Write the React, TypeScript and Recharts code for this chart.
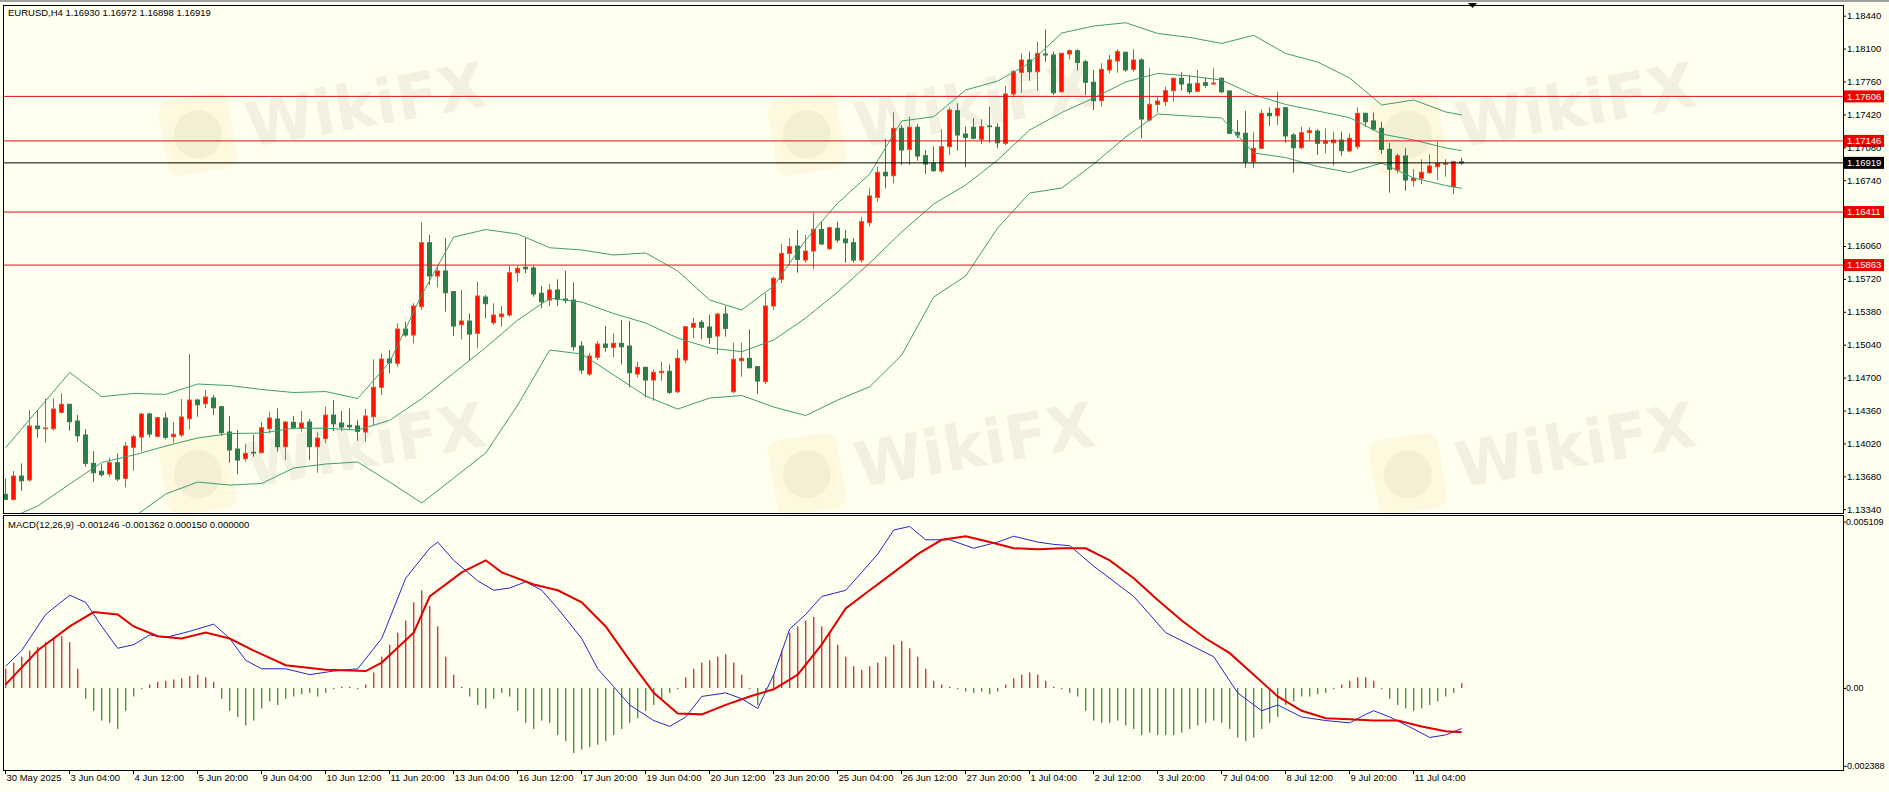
import React from 'react';
import { ComposedChart, Bar, Line, XAxis, YAxis, ReferenceLine } from 'recharts';

// [open, high, low, close] for each H4 bar
const candles: number[][] = [
  [1.13494,1.13659,1.13435,1.13442],[1.13442,1.13735,1.13428,1.13683],[1.13683,1.13814,1.13531,1.13634],[1.13642,1.14365,1.13624,1.14200],
  [1.14200,1.14365,1.14079,1.14172],[1.14172,1.14486,1.14027,1.14179],[1.14172,1.14486,1.14151,1.14375],[1.14341,1.14538,1.14331,1.14424],
  [1.14424,1.14430,1.14151,1.14244],[1.14251,1.14313,1.14037,1.14099],[1.14107,1.14169,1.13779,1.13814],[1.13814,1.13941,1.13624,1.13717],
  [1.13732,1.13804,1.13676,1.13697],[1.13704,1.13876,1.13676,1.13821],[1.13821,1.13918,1.13631,1.13652],[1.13659,1.14031,1.13566,1.13993],
  [1.13980,1.14107,1.13738,1.14089],[1.14086,1.14337,1.13934,1.14324],[1.14324,1.14337,1.14083,1.14117],[1.14093,1.14296,1.14083,1.14286],
  [1.14282,1.14341,1.14062,1.14083],[1.14089,1.14241,1.14027,1.14114],[1.14107,1.14479,1.14089,1.14293],[1.14275,1.14944,1.14166,1.14468],
  [1.14468,1.14482,1.14296,1.14420],[1.14430,1.14572,1.14383,1.14499],[1.14489,1.14520,1.14313,1.14389],[1.14399,1.14405,1.14099,1.14131],
  [1.14138,1.14303,1.13821,1.13952],[1.13962,1.14158,1.13701,1.13848],[1.13862,1.14011,1.13831,1.13918],[1.13928,1.14107,1.13883,1.13921],
  [1.13924,1.14241,1.13918,1.14182],[1.14172,1.14348,1.14124,1.14282],[1.14272,1.14383,1.13934,1.13986],[1.13986,1.14251,1.13848,1.14241],
  [1.14238,1.14303,1.14166,1.14182],[1.14176,1.14355,1.14141,1.14231],[1.14241,1.14272,1.13848,1.13986],[1.13986,1.14135,1.13717,1.14076],
  [1.14069,1.14399,1.14021,1.14313],[1.14313,1.14468,1.14148,1.14223],[1.14231,1.14355,1.14148,1.14189],[1.14207,1.14383,1.14166,1.14192],
  [1.14200,1.14262,1.14048,1.14145],[1.14138,1.14375,1.14037,1.14303],[1.14296,1.14889,1.14210,1.14600],[1.14600,1.14951,1.14520,1.14892],
  [1.14892,1.14985,1.14744,1.14854],[1.14848,1.15261,1.14813,1.15202],[1.15202,1.15278,1.15123,1.15140],[1.15140,1.15468,1.15054,1.15440],
  [1.15433,1.16305,1.15399,1.16094],[1.16094,1.16174,1.15657,1.15750],[1.15750,1.15864,1.15633,1.15802],[1.15802,1.16139,1.15381,1.15577],
  [1.15588,1.15595,1.15130,1.15233],[1.15247,1.15605,1.15096,1.15285],[1.15285,1.15364,1.14875,1.15150],[1.15158,1.15691,1.15003,1.15543],
  [1.15533,1.15553,1.15313,1.15464],[1.15267,1.15468,1.15243,1.15347],[1.15329,1.15440,1.15226,1.15357],[1.15347,1.15856,1.15329,1.15784],
  [1.15784,1.15856,1.15691,1.15829],[1.15840,1.16146,1.15778,1.15825],[1.15833,1.15856,1.15536,1.15564],[1.15571,1.15647,1.15416,1.15484],
  [1.15502,1.15667,1.15440,1.15605],[1.15605,1.15716,1.15440,1.15509],[1.15512,1.15802,1.15468,1.15499],[1.15502,1.15681,1.14978,1.15019],
  [1.15026,1.15078,1.14737,1.14778],[1.14737,1.14957,1.14716,1.14923],[1.14910,1.15078,1.14882,1.15047],[1.15047,1.15233,1.14968,1.15013],
  [1.15013,1.15158,1.14910,1.15054],[1.15054,1.15295,1.14837,1.15019],[1.15026,1.15285,1.14600,1.14751],[1.14737,1.14864,1.14703,1.14806],
  [1.14806,1.14812,1.14496,1.14675],[1.14675,1.14786,1.14461,1.14755],[1.14751,1.14864,1.14668,1.14765],[1.14765,1.14837,1.14530,1.14548],
  [1.14554,1.14992,1.14538,1.14899],[1.14882,1.15233,1.14848,1.15226],[1.15220,1.15319,1.15106,1.15261],[1.15271,1.15295,1.15096,1.15220],
  [1.15223,1.15347,1.15047,1.15116],[1.15130,1.15371,1.14944,1.15357],[1.15357,1.15440,1.15123,1.15209],[1.14554,1.15061,1.14538,1.14889],
  [1.14875,1.15061,1.14709,1.14899],[1.14899,1.15199,1.14796,1.14802],[1.14813,1.14820,1.14530,1.14665],[1.14658,1.15571,1.14634,1.15440],
  [1.15440,1.15743,1.15399,1.15726],[1.15716,1.16081,1.15674,1.15984],[1.15984,1.16139,1.15864,1.16053],[1.16060,1.16225,1.15784,1.15922],
  [1.15915,1.16174,1.15887,1.16008],[1.16008,1.16404,1.15819,1.16232],[1.16232,1.16311,1.16070,1.16081],[1.16032,1.16259,1.16019,1.16249],
  [1.16243,1.16311,1.16094,1.16122],[1.16132,1.16225,1.15887,1.16094],[1.16094,1.16139,1.15887,1.15915],[1.15915,1.16363,1.15887,1.16311],
  [1.16301,1.16656,1.16259,1.16577],[1.16563,1.16879,1.16518,1.16822],[1.16822,1.17166,1.16656,1.16786],[1.16786,1.17442,1.16708,1.17276],
  [1.17276,1.17310,1.16897,1.17052],[1.17059,1.17396,1.16897,1.17287],[1.17287,1.17321,1.16941,1.16990],[1.16993,1.17052,1.16804,1.16907],
  [1.16915,1.17086,1.16828,1.16838],[1.16835,1.17266,1.16817,1.17086],[1.17086,1.17493,1.17000,1.17465],[1.17458,1.17535,1.17045,1.17207],
  [1.17217,1.17293,1.16873,1.17183],[1.17287,1.17380,1.17163,1.17173],[1.17163,1.17369,1.17114,1.17293],[1.17300,1.17499,1.17127,1.17293],
  [1.17287,1.17328,1.17070,1.17127],[1.17121,1.17713,1.17104,1.17631],[1.17631,1.17879,1.17597,1.17861],[1.17855,1.18051,1.17644,1.17982],
  [1.17982,1.18068,1.17768,1.17861],[1.17861,1.18171,1.17665,1.18051],[1.18044,1.18299,1.17964,1.18034],[1.18034,1.18068,1.17620,1.17644],
  [1.17654,1.18057,1.17644,1.18051],[1.18044,1.18093,1.17989,1.18078],[1.18078,1.18093,1.17871,1.17958],[1.17964,1.17982,1.17620,1.17752],
  [1.17752,1.17879,1.17465,1.17561],[1.17561,1.17948,1.17499,1.17886],[1.17879,1.18034,1.17845,1.17982],[1.17972,1.18093,1.17851,1.18068],
  [1.18062,1.18068,1.17861,1.17879],[1.17886,1.18093,1.17861,1.17982],[1.17982,1.18000,1.17173,1.17372],[1.17362,1.17896,1.17344,1.17524],
  [1.17524,1.17603,1.17437,1.17558],[1.17551,1.17706,1.17507,1.17665],[1.17665,1.17800,1.17551,1.17793],[1.17793,1.17855,1.17665,1.17734],
  [1.17734,1.17827,1.17631,1.17654],[1.17659,1.17879,1.17654,1.17741],[1.17747,1.17803,1.17696,1.17721],[1.17734,1.17896,1.17724,1.17744],
  [1.17793,1.17803,1.17638,1.17654],[1.17662,1.17668,1.17217,1.17225],[1.17235,1.17362,1.17173,1.17207],[1.17225,1.17458,1.16869,1.16931],
  [1.16931,1.17235,1.16863,1.17070],[1.17070,1.17473,1.17059,1.17431],[1.17431,1.17493,1.17300,1.17406],[1.17406,1.17654,1.17310,1.17483],
  [1.17489,1.17493,1.17127,1.17197],[1.17207,1.17225,1.16817,1.17076],[1.17076,1.17293,1.17059,1.17231],[1.17231,1.17287,1.17148,1.17251],
  [1.17248,1.17266,1.17000,1.17121],[1.17121,1.17276,1.17018,1.17145],[1.17127,1.17241,1.16890,1.17155],[1.17155,1.17241,1.16993,1.17045],
  [1.17042,1.17225,1.17028,1.17173],[1.17086,1.17493,1.17059,1.17431],[1.17431,1.17437,1.17293,1.17344],[1.17352,1.17437,1.17251,1.17269],
  [1.17276,1.17344,1.17011,1.17059],[1.17059,1.17127,1.16611,1.16853],[1.16845,1.17018,1.16811,1.16993],[1.16990,1.17070,1.16631,1.16742],
  [1.16735,1.16853,1.16673,1.16760],[1.16760,1.16956,1.16701,1.16822],[1.16817,1.17008,1.16804,1.16887],[1.16879,1.17138,1.16742,1.16915],
  [1.16905,1.16956,1.16776,1.16910],[1.16673,1.16941,1.16597,1.16931],[1.16930,1.16972,1.16898,1.16919],
];

const timeLabels = ['30 May 2025','3 Jun 04:00','4 Jun 12:00','5 Jun 20:00','9 Jun 04:00','10 Jun 12:00','11 Jun 20:00','13 Jun 04:00','16 Jun 12:00','17 Jun 20:00','19 Jun 04:00','20 Jun 12:00','23 Jun 20:00','25 Jun 04:00','26 Jun 12:00','27 Jun 20:00','1 Jul 04:00','2 Jul 12:00','3 Jul 20:00','7 Jul 04:00','8 Jul 12:00','9 Jul 20:00','11 Jul 04:00'];
const timeTickIdx = [0,8,16,24,32,40,48,56,64,72,80,88,96,104,112,120,128,136,144,152,160,168,176];

const priceTicks = [1.1844,1.181,1.1776,1.1742,1.1708,1.1674,1.1606,1.1572,1.1538,1.1504,1.147,1.1436,1.1402,1.1368,1.1334];
const levelLines = [1.17606, 1.17146, 1.16411, 1.15863];
const bidPrice = 1.16919;
const macdTicks = [0.005109, 0, -0.002388];

// Bollinger Bands (20,2) read at sampled bars
const bbIdx = [0,4,8,12,16,20,24,28,32,36,40,44,48,52,56,60,64,68,72,76,80,84,88,92,96,100,104,108,112,116,120,124,128,132,136,140,144,148,152,156,160,164,168,172,176,180,182];
const bbUpper = [1.13976,1.14365,1.14753,1.14503,1.14536,1.14527,1.14634,1.14618,1.14577,1.14546,1.14556,1.14484,1.14861,1.15554,1.16153,1.16230,1.16184,1.16042,1.16019,1.15967,1.15988,1.15802,1.15502,1.15399,1.15647,1.16122,1.16504,1.16804,1.17352,1.17396,1.17672,1.17765,1.17951,1.18261,1.18333,1.18367,1.18256,1.18215,1.18153,1.18237,1.18049,1.17961,1.17796,1.17517,1.17569,1.17445,1.17414];
const bbMiddle = [1.13228,1.13373,1.13600,1.13823,1.13900,1.13993,1.14076,1.14122,1.14127,1.14177,1.14177,1.14158,1.14259,1.14483,1.14747,1.15011,1.15295,1.15519,1.15481,1.15362,1.15264,1.15109,1.15006,1.14968,1.15088,1.15316,1.15585,1.15884,1.16205,1.16494,1.16690,1.16949,1.17259,1.17439,1.17589,1.17755,1.17843,1.17817,1.17775,1.17623,1.17522,1.17455,1.17386,1.17217,1.17155,1.17073,1.17045];
const bbLower = [1.12453,1.12350,1.12402,1.13125,1.13259,1.13497,1.13621,1.13590,1.13606,1.13766,1.13807,1.13828,1.13621,1.13404,1.13662,1.13921,1.14417,1.14985,1.14944,1.14727,1.14510,1.14375,1.14489,1.14515,1.14396,1.14308,1.14468,1.14606,1.14933,1.15533,1.15750,1.16246,1.16608,1.16659,1.16907,1.17186,1.17424,1.17403,1.17383,1.17021,1.16974,1.16881,1.16819,1.16918,1.16763,1.16685,1.16656];

// MACD (12,26,9)
const macdMain: number[][] = [[0,0.00067],[2,0.00115],[5,0.00226],[8,0.00285],[10,0.00263],[12,0.00189],[14,0.00122],[16,0.00133],[18,0.00163],[20,0.00155],[23,0.00174],[26,0.00196],[28,0.00152],[30,0.00085],[32,0.00059],[35,0.00059],[38,0.00041],[41,0.00052],[44,0.00059],[47,0.00152],[50,0.00337],[53,0.00429],[54,0.00448],[56,0.00392],[59,0.00329],[61,0.00300],[63,0.00307],[65,0.00326],[67,0.00300],[69,0.00244],[72,0.00152],[74,0.00059],[76,0.00004],[78,-0.00052],[81,-0.00100],[83,-0.00118],[85,-0.00089],[87,-0.00026],[90,-0.00015],[92,-0.00033],[94,-0.00063],[96,0.00041],[98,0.00181],[100,0.00226],[102,0.00281],[105,0.00300],[107,0.00355],[109,0.00411],[111,0.00485],[113,0.00496],[115,0.00455],[118,0.00455],[121,0.00429],[124,0.00448],[126,0.00466],[129,0.00448],[131,0.00441],[133,0.00437],[136,0.00374],[138,0.00337],[141,0.00281],[143,0.00226],[145,0.00170],[148,0.00133],[151,0.00096],[154,-0.00015],[157,-0.00070],[159,-0.00052],[162,-0.00089],[165,-0.00100],[168,-0.00107],[170,-0.00081],[171,-0.00070],[173,-0.00089],[176,-0.00126],[178,-0.00152],[180,-0.00144],[182,-0.001246]];
const macdSignal: number[][] = [[0,0.00011],[4,0.00115],[8,0.00189],[11,0.00233],[14,0.00226],[16,0.00189],[19,0.00159],[22,0.00152],[25,0.00170],[28,0.00152],[31,0.00115],[35,0.00070],[40,0.00056],[45,0.00052],[47,0.00078],[51,0.00170],[53,0.00281],[57,0.00355],[60,0.00392],[62,0.00355],[66,0.00318],[69,0.00300],[72,0.00263],[75,0.00189],[78,0.00085],[81,-0.00015],[84,-0.00078],[87,-0.00081],[90,-0.00052],[93,-0.00026],[96,-0.00004],[99,0.00041],[102,0.00133],[105,0.00244],[108,0.00300],[111,0.00355],[114,0.00411],[117,0.00455],[120,0.00466],[123,0.00448],[126,0.00429],[129,0.00426],[132,0.00429],[135,0.00429],[138,0.00392],[141,0.00337],[144,0.00270],[147,0.00207],[150,0.00152],[153,0.00107],[156,0.00041],[159,-0.00026],[162,-0.00070],[165,-0.00093],[168,-0.00096],[171,-0.00100],[174,-0.00100],[177,-0.00118],[180,-0.00133],[182,-0.001362]];
const macdHist = [
  0.00059,0.00078,0.00096,0.00115,0.00126,0.00141,0.00152,0.00159,0.00141,0.00059,-0.00033,-0.00070,-0.00100,-0.00107,-0.00126,-0.00070,
  -0.00026,-0.00004,0.00011,0.00019,0.00022,0.00026,0.00030,0.00037,0.00041,0.00033,0.00019,-0.00033,-0.00070,-0.00089,-0.00115,-0.00100,
  -0.00063,-0.00041,-0.00052,-0.00033,-0.00026,-0.00019,-0.00015,-0.00026,-0.00015,-0.00004,0.00004,0.00004,-0.00004,0.00011,0.00048,0.00096,
  0.00133,0.00170,0.00207,0.00263,0.00300,0.00252,0.00189,0.00096,0.00041,0.00004,-0.00026,-0.00052,-0.00063,-0.00033,-0.00015,-0.00026,
  -0.00070,-0.00107,-0.00126,-0.00100,-0.00107,-0.00144,-0.00163,-0.00200,-0.00189,-0.00181,-0.00174,-0.00163,-0.00144,-0.00126,-0.00107,-0.00093,
  -0.00070,-0.00052,-0.00033,-0.00015,-0.00004,0.00033,0.00059,0.00078,0.00085,0.00096,0.00104,0.00078,0.00041,-0.00004,-0.00052,-0.00015,
  0.00041,0.00115,0.00170,0.00189,0.00207,0.00218,0.00189,0.00170,0.00133,0.00096,0.00067,0.00056,0.00067,0.00078,0.00096,0.00133,
  0.00144,0.00122,0.00096,0.00059,0.00022,0.00011,0.00004,-0.00004,-0.00011,-0.00015,-0.00011,-0.00019,-0.00011,0.00011,0.00030,0.00041,
  0.00048,0.00041,0.00022,0.00004,-0.00004,-0.00015,-0.00026,-0.00070,-0.00100,-0.00107,-0.00107,-0.00100,-0.00115,-0.00126,-0.00144,-0.00137,
  -0.00144,-0.00144,-0.00144,-0.00137,-0.00126,-0.00115,-0.00107,-0.00100,-0.00107,-0.00126,-0.00152,-0.00163,-0.00152,-0.00126,-0.00107,-0.00089,
  -0.00052,-0.00041,-0.00026,-0.00026,-0.00019,-0.00015,-0.00004,0.00011,0.00022,0.00033,0.00033,0.00022,-0.00004,-0.00033,-0.00052,-0.00063,
  -0.00070,-0.00063,-0.00052,-0.00041,-0.00026,-0.00015,0.00015,
];

type Row = { i: number; o: number; h: number; l: number; c: number; range: number[]; hist: number; up: number | null; mid: number | null; lo: number | null; macd: number | null; sig: number | null };
const data: Row[] = candles.map(([o, h, l, c], i) => ({ i, o, h, l, c, range: [l, h], hist: macdHist[i], up: null, mid: null, lo: null, macd: null, sig: null }));
bbIdx.forEach((idx, k) => { data[idx].up = bbUpper[k]; data[idx].mid = bbMiddle[k]; data[idx].lo = bbLower[k]; });
macdMain.forEach(([idx, v]) => { data[idx].macd = v; });
macdSignal.forEach(([idx, v]) => { data[idx].sig = v; });

const FONT = '"Liberation Sans", Arial, sans-serif';
const BG = '#FFFFF0';
const X_DOMAIN: [number, number] = [-0.2125, 229.66];
const P_DOMAIN: [number, number] = [1.13301, 1.1854];
const M_DOMAIN: [number, number] = [-0.002518, 0.005281];

const BULL_FILL = '#FF1200';
const BULL_LINE = '#E2531E';
const BEAR_FILL = '#2E7E48';
const BEAR_LINE = '#2E7E48';
const BAND = '#3E9E6E';
const LEVEL = '#E01010';

function Candle(props: any) {
  const { x, y, width, height, payload } = props;
  if (!payload || x == null || y == null) return null;
  const { o, h, l, c } = payload;
  const cx = Math.floor(x + width / 2) + 0.5;
  const span = h - l;
  const py = (v: number) => (span > 0 ? y + ((h - v) / span) * height : y);
  const bull = c >= o;
  const top = py(Math.max(o, c));
  const bot = py(Math.min(o, c));
  const line = bull ? BULL_LINE : BEAR_LINE;
  return (
    <g>
      <line x1={cx} x2={cx} y1={y} y2={y + height} stroke={line} strokeWidth={1} />
      <rect x={cx - 2} y={top} width={4} height={Math.max(bot - top, 0)} fill={bull ? BULL_FILL : BEAR_FILL} stroke={line} strokeWidth={1} />
    </g>
  );
}

function HistBar(props: any) {
  const { x, y, width, height, payload } = props;
  if (!payload || x == null || y == null) return null;
  const cx = Math.floor(x + width / 2);
  const top = Math.min(y, y + height);
  const hh = Math.abs(height);
  return <rect x={cx} y={top} width={1.4} height={hh} fill={payload.hist >= 0 ? '#D23A3A' : '#4A9A3C'} />;
}

function PriceTick(props: any) {
  const { x, y, payload } = props;
  return (
    <g>
      <line x1={x} x2={x + 3} y1={y + 0.5} y2={y + 0.5} stroke="#000" />
      <text x={x + 4} y={y} dy="0.36em" fontSize={9.5} fontFamily={FONT} fill="#000">{Number(payload.value).toFixed(5)}</text>
    </g>
  );
}

function MacdTick(props: any) {
  const { x, y, payload } = props;
  const v = Number(payload.value);
  const txt = v === 0 ? '0.00' : v.toFixed(6);
  return (
    <g>
      <line x1={x} x2={x + 3} y1={y + 0.5} y2={y + 0.5} stroke="#000" />
      <text x={x + (v < 0 ? 1 : 3)} y={y} dy="0.36em" fontSize={9} fontFamily={FONT} fill="#000">{txt}</text>
    </g>
  );
}

function TimeTick(props: any) {
  const { x, y, payload } = props;
  const k = timeTickIdx.indexOf(Number(payload.value));
  const label = k >= 0 ? timeLabels[k] : '';
  const tx = Math.floor(x) + 0.5;
  return (
    <g>
      <line x1={tx} x2={tx} y1={y} y2={y + 4} stroke="#000" />
      <text x={tx + 1} y={y + 11} fontSize={9.5} fontFamily={FONT} fill="#000">{label}</text>
    </g>
  );
}

function LevelLabel(props: any) {
  const { viewBox, text, bg } = props;
  if (!viewBox) return null;
  const bx = viewBox.x + viewBox.width;
  const y = viewBox.y;
  return (
    <g>
      <rect x={bx} y={y - 6} width={41} height={12} fill={bg} />
      <text x={bx + 4} y={y} dy="0.36em" fontSize={9.5} fontFamily={FONT} fill="#fff">{text}</text>
    </g>
  );
}

const wmRows = [104, 444];
const wmCols = [358, 967, 1568];

function Watermarks() {
  const items: React.ReactNode[] = [];
  wmRows.forEach((cy) => wmCols.forEach((cx) => {
    items.push(
      <g key={cx + '-' + cy} transform={`translate(${cx},${cy}) rotate(-10)`}>
        <rect x={-198} y={-36} width={70} height={76} rx={12} fill="#F7DC94" opacity={0.2} />
        <circle cx={-163} cy={2} r={24} fill="#B8AE98" opacity={0.12} />
        <text x={-114} y={24} fontSize={62} fontWeight={700} fontFamily='"DejaVu Sans", sans-serif' fill="#8C8068" opacity={0.1}>WikiFX</text>
      </g>
    );
  }));
  return (
    <svg width={1889} height={792} style={{ position: 'absolute', left: 0, top: 0 }}>
      {items}
    </svg>
  );
}

export default function App() {
  return (
    <div style={{ position: 'relative', width: 1889, height: 792, background: BG, overflow: 'hidden', fontFamily: FONT }}>
      <style>{'body{margin:0;}'}</style>
      <Watermarks />
      <div style={{ position: 'absolute', left: 0, top: 0 }}>
        <ComposedChart width={1889} height={514} data={data} margin={{ top: 6, right: 0, bottom: 1, left: 4 }}>
          <XAxis dataKey="i" type="number" domain={X_DOMAIN} allowDataOverflow hide height={0} />
          <YAxis orientation="right" width={46} domain={P_DOMAIN} allowDataOverflow ticks={priceTicks} interval={0} tick={<PriceTick />} tickLine={false} axisLine={false} tickSize={0} tickMargin={0} />
          <Bar dataKey="range" shape={<Candle />} barSize={6} isAnimationActive={false} />
          <Line dataKey="up" type="linear" stroke={BAND} strokeWidth={1} dot={false} connectNulls isAnimationActive={false} />
          <Line dataKey="mid" type="linear" stroke={BAND} strokeWidth={1} dot={false} connectNulls isAnimationActive={false} />
          <Line dataKey="lo" type="linear" stroke={BAND} strokeWidth={1} dot={false} connectNulls isAnimationActive={false} />
          {levelLines.map((v) => (
            <ReferenceLine key={v} y={v} stroke={LEVEL} strokeWidth={1} label={<LevelLabel text={v.toFixed(5)} bg="#F00000" />} />
          ))}
          <ReferenceLine y={bidPrice} stroke="#000" strokeWidth={1} label={<LevelLabel text={bidPrice.toFixed(5)} bg="#000" />} />
        </ComposedChart>
      </div>
      <div style={{ position: 'absolute', left: 0, top: 516 }}>
        <ComposedChart width={1889} height={276} data={data} margin={{ top: 0, right: 0, bottom: 0, left: 4 }}>
          <XAxis dataKey="i" type="number" domain={X_DOMAIN} allowDataOverflow ticks={timeTickIdx} interval={0} tick={<TimeTick />} height={22} tickLine={false} axisLine={false} tickSize={0} tickMargin={0} />
          <YAxis orientation="right" width={46} domain={M_DOMAIN} allowDataOverflow ticks={macdTicks} interval={0} tick={<MacdTick />} tickLine={false} axisLine={false} tickSize={0} tickMargin={0} />
          <Bar dataKey="hist" shape={<HistBar />} barSize={2} isAnimationActive={false} />
          <Line dataKey="macd" type="linear" stroke="#2626C8" strokeWidth={1} dot={false} connectNulls isAnimationActive={false} />
          <Line dataKey="sig" type="linear" stroke="#E00000" strokeWidth={2} dot={false} connectNulls isAnimationActive={false} />
        </ComposedChart>
      </div>
      <svg width={1889} height={792} style={{ position: 'absolute', left: 0, top: 0, pointerEvents: 'none' }}>
        <rect x={0} y={0} width={1889} height={2} fill="#A0A0A0" />
        <rect x={3.5} y={5.5} width={1840} height={508} fill="none" stroke="#000" />
        <rect x={3.5} y={515.5} width={1840} height={255} fill="none" stroke="#000" />
        <polygon points="1468,3 1477,3 1472.5,8" fill="#000" />
        <text x={8} y={16} fontSize={9.5} fontFamily={FONT} fill="#000">EURUSD,H4  1.16930 1.16972 1.16898 1.16919</text>
        <text x={8} y={528} fontSize={9.5} fontFamily={FONT} fill="#000">MACD(12,26,9) -0.001246 -0.001362 0.000150 0.000000</text>
      </svg>
    </div>
  );
}
